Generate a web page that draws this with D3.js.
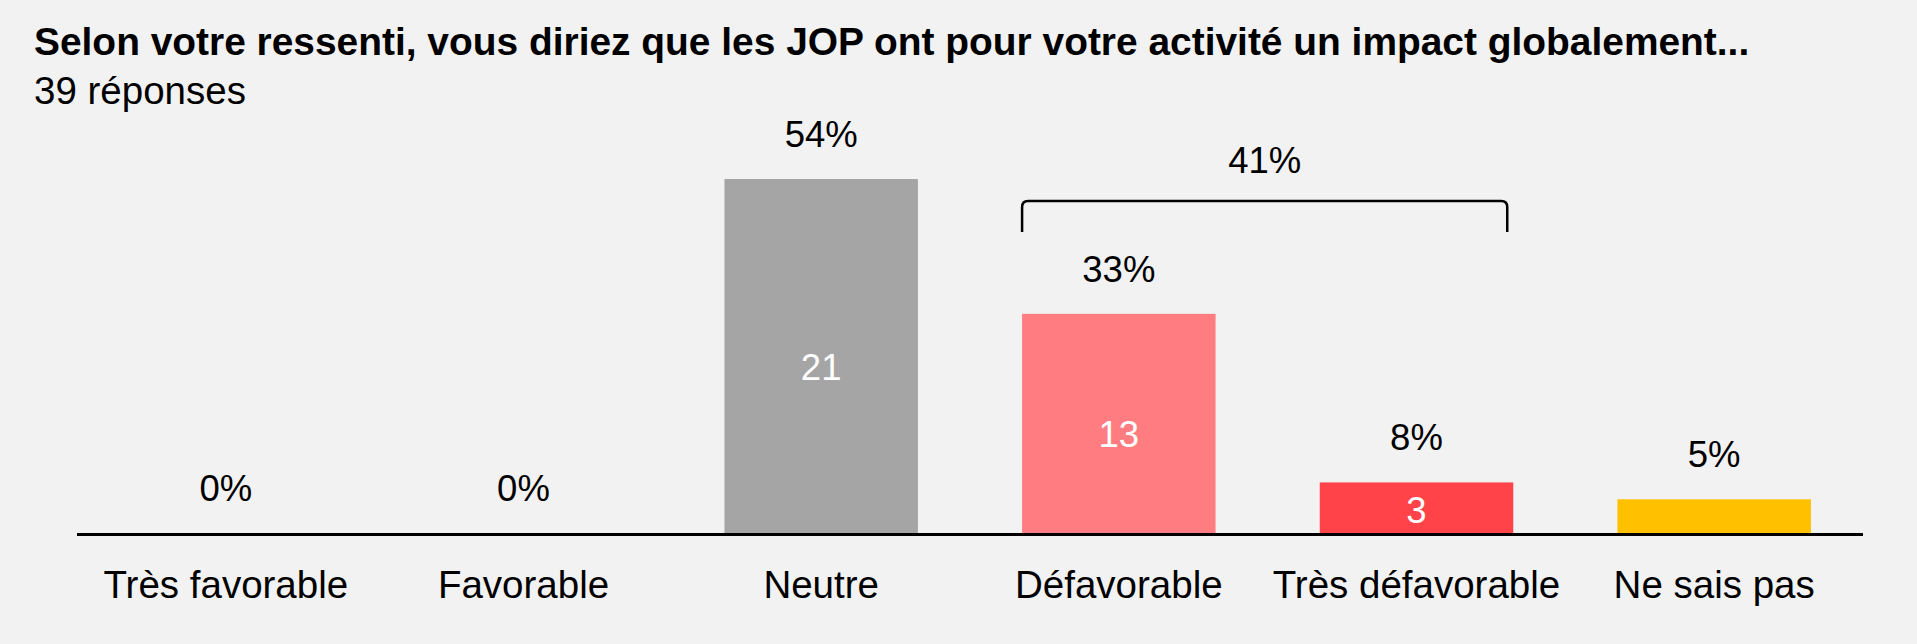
<!DOCTYPE html>
<html lang="fr">
<head>
  <meta charset="UTF-8">
  <title>Impact des JOP</title>
  <script src="https://d3js.org/d3.v7.min.js"></script>
  <style>
    html, body {
      margin: 0;
      padding: 0;
      background: #f2f2f2;
    }
    svg {
      display: block;
      font-family: "Liberation Sans", Arial, sans-serif;
    }
    .title {
      font-size: 38.9px;
      font-weight: bold;
    }
    .subtitle, .cat {
      font-size: 38.5px;
    }
    .pct, .count {
      font-size: 36.5px;
    }
    .count {
      fill: #fff;
    }
  </style>
</head>
<body>
  <svg></svg>
  <script>
    // données
    const categories = ["Très favorable", "Favorable", "Neutre", "Défavorable", "Très défavorable", "Ne sais pas"];
    const counts = [0, 0, 21, 13, 3, 2];
    const percents = [0, 0, 54, 33, 8, 5];
    const colors = ["#a5a5a5", "#a5a5a5", "#a5a5a5", "#ff7c80", "#ff4349", "#ffc000"];
    const groupCats = ["Défavorable", "Très défavorable"];
    const groupPercent = 41;
    const total = 39;

    const W = 1917, H = 644;
    const svg = d3.select("svg").attr("width", W).attr("height", H);

    const x = d3.scaleBand()
      .domain(categories)
      .range([77, 1863])
      .paddingInner(0.35)
      .paddingOuter(0.175);

    const y = d3.scaleLinear()
      .domain([0, 21])
      .range([533, 179]);

    // titre
    svg.append("text")
      .attr("class", "title")
      .attr("x", 34)
      .attr("y", 55)
      .text("Selon votre ressenti, vous diriez que les JOP ont pour votre activité un impact globalement...");

    svg.append("text")
      .attr("class", "subtitle")
      .attr("x", 34)
      .attr("y", 104)
      .text(total + " réponses");

    const data = categories.map((c, i) => ({ cat: c, n: counts[i], p: percents[i], color: colors[i] }));

    // barres
    svg.selectAll("rect.bar")
      .data(data.filter(d => d.n > 0))
      .join("rect")
      .attr("class", "bar")
      .attr("x", d => x(d.cat))
      .attr("width", x.bandwidth())
      .attr("y", d => y(d.n))
      .attr("height", d => y(0) - y(d.n))
      .attr("fill", d => d.color);

    // pourcentages au-dessus
    svg.selectAll("text.pct")
      .data(data)
      .join("text")
      .attr("class", "pct")
      .attr("text-anchor", "middle")
      .attr("x", d => x(d.cat) + x.bandwidth() / 2)
      .attr("y", d => y(d.n) - 32)
      .text(d => d.p + "%");

    // effectifs dans les barres (sauf petites barres)
    svg.selectAll("text.count")
      .data(data.filter(d => d.n > 2))
      .join("text")
      .attr("class", "count")
      .attr("text-anchor", "middle")
      .attr("x", d => x(d.cat) + x.bandwidth() / 2)
      .attr("y", d => Math.min((y(d.n) + y(0)) / 2 + 24, y(0) - 10))
      .text(d => d.n);

    // axe horizontal
    svg.append("line")
      .attr("x1", x.range()[0])
      .attr("x2", x.range()[1])
      .attr("y1", y(0) + 1.5)
      .attr("y2", y(0) + 1.5)
      .attr("stroke", "#000")
      .attr("stroke-width", 3.2);

    // libellés des catégories
    svg.selectAll("text.cat")
      .data(categories)
      .join("text")
      .attr("class", "cat")
      .attr("text-anchor", "middle")
      .attr("x", d => x(d) + x.bandwidth() / 2)
      .attr("y", 598)
      .text(d => d);

    // accolade regroupant les avis défavorables
    const bx0 = x(groupCats[0]);
    const bx1 = x(groupCats[1]) + x.bandwidth() - 6;
    const by = 201, bh = 31, r = 6;
    const bracket = d3.path();
    bracket.moveTo(bx0, by + bh);
    bracket.lineTo(bx0, by + r);
    bracket.quadraticCurveTo(bx0, by, bx0 + r, by);
    bracket.lineTo(bx1 - r, by);
    bracket.quadraticCurveTo(bx1, by, bx1, by + r);
    bracket.lineTo(bx1, by + bh);

    svg.append("path")
      .attr("d", bracket.toString())
      .attr("fill", "none")
      .attr("stroke", "#000")
      .attr("stroke-width", 2.5);

    svg.append("text")
      .attr("class", "pct")
      .attr("text-anchor", "middle")
      .attr("x", (bx0 + bx1) / 2)
      .attr("y", by - 28)
      .text(groupPercent + "%");
  </script>
</body>
</html>
